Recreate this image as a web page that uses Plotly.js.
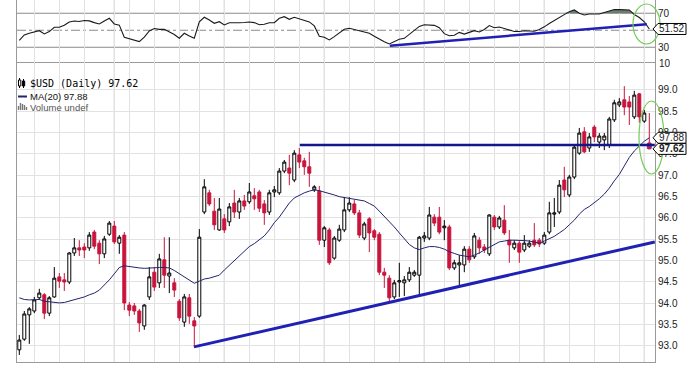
<!DOCTYPE html>
<html><head><meta charset="utf-8">
<script src="https://cdn.plot.ly/plotly-3.0.1.min.js"></script>
<style>html,body{margin:0;padding:0;background:#fff}#chart{width:699px;height:367px}</style>
</head><body><div id="chart"></div>
<script>
// ---- $USD daily candles ----
const open = [92.91,93.16,93.73,93.82,94.13,94.20,93.77,94.15,94.62,94.55,
94.50,95.18,95.30,95.32,95.30,95.67,95.41,95.16,95.62,95.81,
95.41,95.60,93.96,93.94,93.82,93.47,94.15,94.73,94.48,95.02,
94.64,94.48,94.05,93.56,94.13,93.59,93.70,96.14,96.59,96.16,
95.72,95.98,95.91,96.35,96.14,96.40,96.38,96.52,96.61,96.33,
96.14,96.61,96.59,97.10,97.17,96.89,97.48,97.34,97.20,96.66,
96.63,95.48,95.72,95.06,95.48,95.72,96.19,96.33,96.12,95.53,
95.98,95.70,95.62,94.73,94.59,94.15,94.50,94.48,94.55,94.66,
94.66,95.53,95.53,96.02,96.02,95.77,95.79,94.83,94.90,94.90,
95.27,95.09,95.48,95.32,95.16,96.02,95.79,95.95,95.48,95.30,
95.41,95.25,95.34,95.48,95.48,95.41,95.67,96.09,96.14,96.89,
96.54,96.96,97.52,98.02,97.64,98.13,97.78,97.83,97.71,98.30,
98.65,98.77,98.72,98.37,98.91,98.27,97.76];
const high = [93.26,93.82,93.91,94.15,94.34,94.24,94.17,94.85,94.71,94.71,
95.20,95.53,95.48,95.41,95.67,95.72,95.48,95.58,95.93,95.93,
95.60,95.67,94.03,94.01,93.87,93.98,94.85,94.85,95.16,95.55,
95.55,94.59,94.10,94.22,94.22,93.68,95.74,96.91,96.66,96.47,
96.47,96.09,96.35,96.66,96.47,96.54,96.82,96.70,96.66,96.42,
96.66,96.75,97.17,97.36,97.48,97.59,97.64,97.41,97.55,96.77,
96.75,95.81,95.77,95.58,95.84,96.49,96.49,96.42,96.19,95.91,
96.02,95.74,95.67,94.83,94.66,94.55,94.95,94.64,94.85,94.78,
95.58,95.67,96.26,96.09,96.26,95.95,95.84,95.02,95.13,95.34,
95.34,95.65,95.55,95.39,96.09,96.07,96.05,96.30,95.72,95.48,
95.46,95.60,95.48,95.88,95.53,95.67,96.38,96.47,96.89,97.20,
97.01,97.71,98.11,98.13,97.99,98.18,97.99,97.99,98.37,98.77,
98.81,99.09,98.86,98.98,98.93,98.53,98.46];
const low = [92.79,93.12,93.05,93.77,94.08,93.63,93.70,94.13,94.36,94.29,
94.45,95.11,95.11,95.06,95.23,95.27,94.92,95.06,95.58,95.39,
95.16,93.84,93.70,93.73,93.33,93.38,94.08,94.29,94.36,94.36,
94.24,94.15,93.59,93.45,93.52,92.98,93.66,96.09,96.28,95.72,
95.70,95.65,95.81,96.00,95.98,96.19,96.33,96.19,96.14,95.84,
96.07,96.49,96.54,97.05,96.77,96.84,97.17,97.01,96.73,96.61,
95.37,95.32,94.90,95.02,95.44,95.67,96.14,96.07,95.53,95.48,
95.20,95.48,94.66,94.36,94.03,94.10,94.15,94.17,94.50,94.62,
94.20,95.44,95.48,95.81,95.62,95.48,94.78,94.78,94.43,94.73,
94.95,95.04,95.16,95.18,95.11,95.72,95.74,95.60,94.95,95.25,
94.95,95.20,95.30,95.32,95.32,95.37,95.62,95.79,96.09,96.49,
96.49,96.91,97.48,97.52,97.55,97.78,97.64,97.59,97.64,98.25,
98.60,98.41,98.18,98.32,98.23,98.23,97.62];
const close = [93.14,93.75,93.87,94.08,94.24,93.77,94.13,94.59,94.52,94.50,
95.18,95.30,95.25,95.25,95.60,95.34,95.16,95.51,95.88,95.44,
95.55,94.01,93.84,93.82,93.54,93.96,94.62,94.38,95.04,94.66,
94.71,94.31,93.66,94.15,93.70,93.47,95.55,96.73,96.33,95.84,
96.21,95.72,96.26,96.14,96.40,96.28,96.61,96.45,96.23,96.12,
96.59,96.66,97.10,97.31,97.05,97.52,97.31,97.20,97.05,96.73,
95.48,95.77,94.95,95.53,95.74,96.19,96.35,96.12,95.60,95.86,
95.65,95.55,94.73,94.66,94.13,94.48,94.53,94.55,94.73,94.73,
95.55,95.58,96.07,95.88,95.67,95.81,94.83,94.95,94.95,95.27,
95.02,95.58,95.30,95.25,96.07,95.79,96.00,95.65,95.37,95.41,
95.20,95.41,95.41,95.37,95.39,95.60,96.12,96.12,96.77,96.66,
96.96,97.66,97.99,97.55,97.90,97.90,97.92,97.92,98.32,98.70,
98.72,98.60,98.60,98.88,98.37,98.46,97.62];
// ---- MA(20) line as drawn ----
const ma20 = [94.13,94.09,94.08,94.09,94.09,94.05,94.04,94.02,94.01,94.02,
94.05,94.09,94.12,94.15,94.20,94.24,94.31,94.42,94.55,94.69,
94.84,94.88,94.86,94.84,94.83,94.82,94.83,94.84,94.84,94.84,
94.83,94.77,94.70,94.63,94.55,94.47,94.52,94.57,94.59,94.62,
94.66,94.78,94.89,94.99,95.12,95.23,95.33,95.40,95.50,95.58,
95.72,95.89,96.02,96.19,96.35,96.47,96.54,96.59,96.63,96.66,
96.64,96.61,96.57,96.54,96.50,96.48,96.46,96.45,96.42,96.40,
96.34,96.28,96.16,96.04,95.92,95.79,95.65,95.51,95.38,95.30,
95.26,95.30,95.33,95.33,95.31,95.27,95.21,95.17,95.13,95.11,
95.09,95.13,95.18,95.25,95.32,95.39,95.44,95.46,95.48,95.48,
95.48,95.47,95.46,95.44,95.41,95.46,95.52,95.57,95.65,95.73,
95.84,95.95,96.09,96.20,96.27,96.35,96.45,96.56,96.70,96.87,
97.02,97.22,97.42,97.57,97.69,97.80,97.88];
// ---- RSI(14) as drawn ----
const rsi14 = [38,44.5,46.5,48,49.5,45.7,48.4,53.5,53.5,56,
59.8,60.9,60.3,61.5,61,59,57.4,60.9,64.1,57.4,
56,41.8,40,38.5,36.6,42,49.2,52,51,51.2,
48,45,40.6,46.5,43.3,40.6,60,65.3,62.1,58.2,
60.1,56.2,58.9,58.5,58.9,59.2,59.8,59,56.5,57,
58.9,58.9,64.1,66,62.9,65.3,63.6,61.3,59.8,55.1,
43,41.8,38.6,42.5,46.5,51.2,52.4,51,49.5,48,
46.5,43,39.4,36.5,33.9,36.5,39.4,40.5,45,50,
54.5,56.5,56,55.8,53,46,43.5,44.1,47.5,45.5,
47.5,49.5,48,51,55.5,53,53.8,52.5,50.4,48.5,
48.5,49.5,49,48.8,51,54,58,61.5,65,67.5,
71.9,73.9,70,68,69.2,69.2,69.2,71,72.5,74.5,
74.3,73.9,73.9,68.5,65,60,51.52];
// ---- drawn trend lines ----
const supportX = [34.94, 127.1], supportY = [92.98, 95.44];
const resistX = [56.1, 127.1], resistY = [97.71, 97.71];
const rsiTrendX = [74.1, 125.5], rsiTrendY = [31.9, 57.1];
// ---- axis ticks ----
const yTicks = [93.0,93.5,94.0,94.5,95.0,95.5,96.0,96.5,97.0,97.5,98.0,98.5,99.0];
const rsiTicks = [30, 70];
const xTickIdx = [3,8,13,19,22,27,32,36,41,46,51,56,61,66,71,76,81,85,90,95,100,105,110,115,120,125];
const xTickTxt = ['8','15','22','<b>Jul</b>','6','13','20','27','<b>Aug</b>','10','17','24','<b>Sep</b>','8','14','21','<b>Oct</b>','5','12','19','26','<b>Nov</b>','9','16','23','<b>Dec</b>'];
const monthIdx = [19,41,61,81,105,125];
const lastClose = close[close.length-1], lastMA = ma20[ma20.length-1], lastRSI = rsi14[rsi14.length-1];

const idx = open.map((_, i) => i);
// pixel helpers for decorations (plot area 17..655 x, 0..362 y)
const PX = p => (p - 17) / 638, PY = p => (362 - p) / 362;

const traces = [
  {type:'candlestick', x:idx, open, high, low, close, xaxis:'x', yaxis:'y',
   increasing:{line:{color:'#000000', width:1}, fillcolor:'#ffffff'},
   decreasing:{line:{color:'#c8143c', width:1}, fillcolor:'#c8143c'},
   whiskerwidth:0, hoverinfo:'skip', showlegend:false},
  {type:'scatter', mode:'lines', x:idx, y:ma20, xaxis:'x', yaxis:'y',
   line:{color:'#23236e', width:1}, hoverinfo:'skip', showlegend:false},
  {type:'scatter', mode:'markers', x:[idx[idx.length-1]], y:[(open[open.length-1]+lastClose)/2],
   xaxis:'x', yaxis:'y', marker:{symbol:'square', size:5, color:'#9a2a7a'}, hoverinfo:'skip', showlegend:false},
  {type:'scatter', mode:'lines', x:resistX, y:resistY, xaxis:'x', yaxis:'y',
   line:{color:'#16168c', width:2.5}, hoverinfo:'skip', showlegend:false},
  {type:'scatter', mode:'lines', x:supportX, y:supportY, xaxis:'x', yaxis:'y',
   line:{color:'#2020b4', width:3}, hoverinfo:'skip', showlegend:false},
  // RSI panel
  {type:'scatter', mode:'lines', x:idx, y:idx.map(() => 70), xaxis:'x2', yaxis:'y2',
   line:{width:0, color:'rgba(0,0,0,0)'}, hoverinfo:'skip', showlegend:false},
  {type:'scatter', mode:'lines', x:idx, y:rsi14.map(v => Math.max(v, 70)), xaxis:'x2', yaxis:'y2',
   fill:'tonexty', fillcolor:'#6e7e6e', line:{width:0, color:'rgba(0,0,0,0)'}, hoverinfo:'skip', showlegend:false},
  {type:'scatter', mode:'lines', x:idx, y:rsi14, xaxis:'x2', yaxis:'y2',
   line:{color:'#1a1a1a', width:1.1}, hoverinfo:'skip', showlegend:false},
  {type:'scatter', mode:'lines', x:rsiTrendX, y:rsiTrendY, xaxis:'x2', yaxis:'y2',
   line:{color:'#2020b4', width:2.5}, hoverinfo:'skip', showlegend:false}
];

const tagPath = 'M -2 0 L 3 5.5 L 31 5.5 L 31 -5.5 L 3 -5.5 Z';
const tag = (yv, yref) => ({type:'path', xref:'paper', yref, xsizemode:'pixel', ysizemode:'pixel',
  xanchor:1, yanchor:yv, path:tagPath, line:{color:'#000', width:1}, fillcolor:'#ffffff', layer:'above'});

const shapes = [];
monthIdx.forEach(m => shapes.push({type:'line', xref:'x', yref:'paper', x0:m, x1:m, y0:0, y1:1,
  line:{color:'#b4b4b4', width:1}, layer:'below'}));
[70, 30].forEach(v => shapes.push({type:'line', xref:'paper', yref:'y2', x0:0, x1:1, y0:v, y1:v,
  line:{color:'#8a8a8a', width:1}, layer:'below'}));
shapes.push({type:'line', xref:'paper', yref:'y2', x0:0, x1:1, y0:50, y1:50,
  line:{color:'#8a8a8a', width:1, dash:'dashdot'}, layer:'below'});
// green ellipses
shapes.push({type:'circle', xref:'paper', yref:'paper', x0:PX(639), x1:PX(664), y0:PY(174), y1:PY(101),
  line:{color:'#74cc5a', width:1.2}, layer:'above'});
shapes.push({type:'circle', xref:'paper', yref:'paper', x0:PX(633), x1:PX(660), y0:PY(44), y1:PY(4),
  line:{color:'#74cc5a', width:1.2}, layer:'above'});
// value tags
shapes.push(tag(lastMA, 'y'));
shapes.push(tag(lastClose, 'y'));
shapes.push(tag(lastRSI, 'y2'));
// legend icons
shapes.push({type:'line', xref:'paper', yref:'paper', x0:PX(19.5), x1:PX(19.5), y0:PY(88), y1:PY(78), line:{color:'#000', width:1}});
shapes.push({type:'rect', xref:'paper', yref:'paper', x0:PX(18.5), x1:PX(20.8), y0:PY(86), y1:PY(80), line:{color:'#000', width:1}, fillcolor:'#fff'});
shapes.push({type:'line', xref:'paper', yref:'paper', x0:PX(23.5), x1:PX(23.5), y0:PY(88), y1:PY(79), line:{color:'#000', width:1}});
shapes.push({type:'rect', xref:'paper', yref:'paper', x0:PX(22.4), x1:PX(24.7), y0:PY(86), y1:PY(81), line:{color:'#000', width:1}, fillcolor:'#000'});
shapes.push({type:'line', xref:'paper', yref:'paper', x0:PX(18), x1:PX(27), y0:PY(96.5), y1:PY(96.5), line:{color:'#23236e', width:2}});
[[18.5,106],[20.5,103],[22.5,104],[24.5,105],[26.5,107]].forEach(b => shapes.push({type:'rect', xref:'paper', yref:'paper',
  x0:PX(b[0]-0.7), x1:PX(b[0]+0.7), y0:PY(110), y1:PY(b[1]), line:{width:0}, fillcolor:'#777'}));

const fTick = {family:'Liberation Sans, Arial, sans-serif', size:10, color:'#222'};
const annotations = [
  {xref:'paper', yref:'paper', x:PX(28), y:PY(83), xanchor:'left', yanchor:'middle', showarrow:false,
   text:'$USD (Daily) ' + lastClose.toFixed(2), font:{family:'DejaVu Sans Mono, monospace', size:10, color:'#000'}},
  {xref:'paper', yref:'paper', x:PX(28), y:PY(96.5), xanchor:'left', yanchor:'middle', showarrow:false,
   text:'MA(20) ' + lastMA.toFixed(2), font:{family:'Liberation Sans, Arial, sans-serif', size:9.5, color:'#111'}},
  {xref:'paper', yref:'paper', x:PX(28), y:PY(107.5), xanchor:'left', yanchor:'middle', showarrow:false,
   text:'Volume undef', font:{family:'Liberation Sans, Arial, sans-serif', size:9.5, color:'#555'}},
  {xref:'paper', yref:'paper', x:1, y:PY(63), xanchor:'left', yanchor:'middle', xshift:2, showarrow:false,
   text:'10', font:fTick},
  {xref:'paper', yref:'y', x:1, y:lastMA, xanchor:'left', yanchor:'middle', xshift:2, showarrow:false,
   text:lastMA.toFixed(2), font:fTick},
  {xref:'paper', yref:'y', x:1, y:lastClose, xanchor:'left', yanchor:'middle', xshift:2, showarrow:false,
   text:'<b>' + lastClose.toFixed(2) + '</b>', font:fTick},
  {xref:'paper', yref:'y2', x:1, y:lastRSI, xanchor:'left', yanchor:'middle', xshift:2, showarrow:false,
   text:lastRSI.toFixed(2), font:fTick}
];

const xr = [-0.46, 127.14];
const layout = {
  width:699, height:367, margin:{l:17, r:44, t:0, b:5, pad:0},
  paper_bgcolor:'#ffffff', plot_bgcolor:'#ffffff', showlegend:false, boxgap:0.15,
  font:fTick,
  xaxis:{domain:[0,1], range:xr, anchor:'y', tickmode:'array', tickvals:xTickIdx, ticktext:xTickTxt,
    showgrid:true, gridcolor:'#e2e2e2', gridwidth:1, ticks:'', tickfont:fTick, zeroline:false,
    showline:true, linecolor:'#9a9a9a', linewidth:1, mirror:true, rangeslider:{visible:false}, fixedrange:true},
  yaxis:{domain:[0,0.826], range:[92.625,99.633], anchor:'x', side:'right', tickmode:'array',
    tickvals:yTicks, ticktext:yTicks.map(v => v.toFixed(1)), showgrid:true, gridcolor:'#e2e2e2', ticks:'',
    tickfont:fTick, zeroline:false, showline:true, linecolor:'#9a9a9a', linewidth:1, mirror:true, fixedrange:true},
  xaxis2:{domain:[0,1], range:xr, anchor:'y2', tickmode:'array', tickvals:xTickIdx, showticklabels:false,
    showgrid:true, gridcolor:'#e2e2e2', ticks:'', zeroline:false, showline:false, rangeslider:{visible:false}, fixedrange:true},
  yaxis2:{domain:[0.826,1], range:[11.5,85.6], anchor:'x2', side:'right', tickmode:'array',
    tickvals:rsiTicks, ticktext:rsiTicks.map(String), showgrid:false, ticks:'', tickfont:fTick,
    zeroline:false, showline:true, linecolor:'#9a9a9a', linewidth:1, mirror:true, fixedrange:true},
  shapes, annotations
};
Plotly.newPlot('chart', traces, layout, {staticPlot:true, displayModeBar:false});
</script></body></html>
